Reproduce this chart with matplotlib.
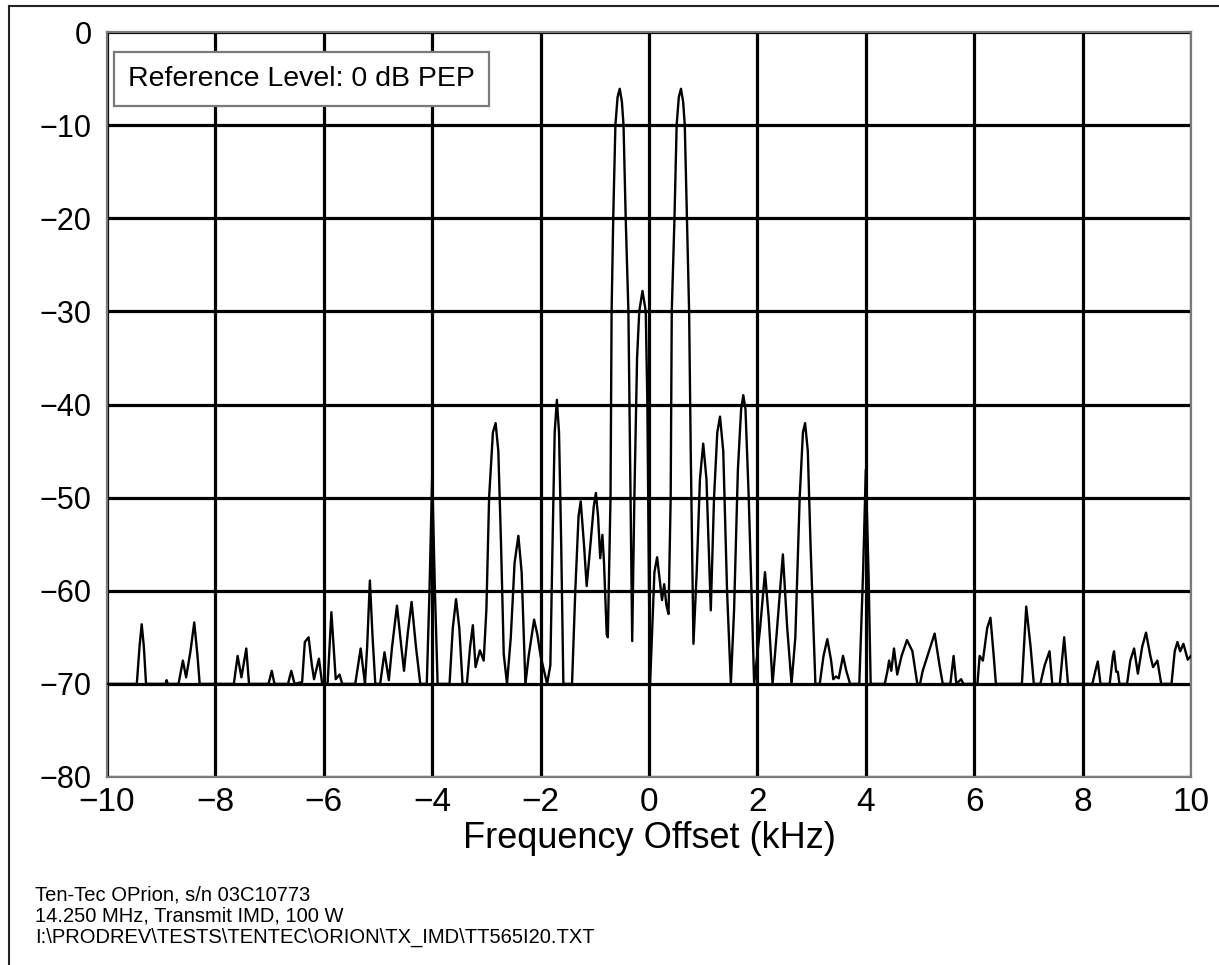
import matplotlib
matplotlib.use("Agg")
import matplotlib.pyplot as plt
from matplotlib.lines import Line2D

plt.rcParams['font.family'] = ['Liberation Sans', 'DejaVu Sans']

# Spectrum trace (kHz offset, dB relative to PEP)
freq_khz = [
    -10.0, -9.45, -9.40, -9.36, -9.32, -9.28,
    -8.92, -8.90, -8.88,
    -8.68, -8.60, -8.54, -8.46, -8.39, -8.33, -8.29,
    -7.66, -7.59, -7.52, -7.43, -7.38,
    -7.02, -6.96, -6.91,
    -6.66, -6.60, -6.54,
    -6.40, -6.35, -6.28, -6.22, -6.18, -6.09, -6.03,
    -5.93, -5.86, -5.78, -5.71, -5.66,
    -5.42, -5.32, -5.24, -5.20, -5.15, -5.10, -5.05,
    -4.96, -4.88, -4.80, -4.74, -4.65, -4.57, -4.52, -4.45, -4.38, -4.30, -4.22,
    -4.10, -4.05, -4.00, -3.95, -3.90,
    -3.68, -3.62, -3.56, -3.50, -3.44,
    -3.36, -3.30, -3.25, -3.20, -3.12, -3.05, -3.00, -2.95, -2.88, -2.83, -2.78, -2.73, -2.68, -2.62,
    -2.55, -2.48, -2.41, -2.35, -2.28,
    -2.22, -2.12, -2.06, -2.00, -1.88,
    -1.82, -1.78, -1.74, -1.70, -1.66, -1.62, -1.58,
    -1.42, -1.36, -1.30, -1.26, -1.20, -1.15, -1.08, -1.02, -0.98, -0.94, -0.90, -0.86, -0.83, -0.78,
    -0.76, -0.71, -0.69, -0.66, -0.62, -0.58, -0.54, -0.50, -0.47, -0.43, -0.38, -0.35, -0.31,
    -0.27, -0.22, -0.18, -0.12, -0.06, -0.03, 0.00, 0.02,
    0.06, 0.10, 0.15, 0.20, 0.24, 0.28, 0.32, 0.36, 0.40, 0.42, 0.47, 0.51, 0.55, 0.59, 0.63, 0.66, 0.70, 0.74, 0.77, 0.82,
    0.88, 0.94, 1.00, 1.06, 1.14, 1.20, 1.26, 1.31, 1.37, 1.44, 1.51,
    1.57, 1.64, 1.70, 1.74, 1.78, 1.84, 1.94,
    2.05, 2.14, 2.21, 2.28,
    2.35, 2.47, 2.55, 2.63,
    2.70, 2.78, 2.84, 2.88, 2.93, 2.98, 3.07,
    3.15, 3.22, 3.29, 3.36, 3.40, 3.45, 3.50, 3.58, 3.64, 3.71,
    3.88, 3.95, 4.00, 4.05, 4.09,
    4.35, 4.40, 4.43, 4.47, 4.52, 4.58, 4.66, 4.76, 4.86, 4.95, 5.00,
    5.05, 5.17, 5.27, 5.36, 5.42, 5.56, 5.62, 5.67, 5.76, 5.80,
    6.06, 6.10, 6.16, 6.24, 6.30, 6.36, 6.40,
    6.88, 6.96, 7.04, 7.10,
    7.22, 7.30, 7.39, 7.44,
    7.58, 7.66, 7.73,
    8.18, 8.24, 8.28, 8.33,
    8.50, 8.56, 8.58, 8.62, 8.65, 8.68,
    8.82, 8.88, 8.95, 9.02, 9.10, 9.17, 9.25, 9.30, 9.38, 9.45,
    9.64, 9.70, 9.75, 9.80, 9.86, 9.94, 10.0,
]
level_db = [
    -70, -70, -66, -63.6, -66, -70,
    -70, -69.6, -70,
    -70, -67.5, -69.3, -66.5, -63.4, -67, -70,
    -70, -67.0, -69.3, -66.2, -70,
    -70, -68.6, -70,
    -70, -68.6, -70,
    -69.8, -65.5, -65.0, -68, -69.5, -67.3, -70,
    -70, -62.3, -69.5, -69, -70,
    -70, -66.2, -70, -66, -58.9, -65, -70,
    -70, -66.6, -69.6, -66, -61.6, -66, -68.6, -64.5, -61.2, -66, -70,
    -70, -60, -47.5, -60, -70,
    -70, -64, -60.9, -64, -70,
    -70, -66, -63.7, -68.2, -66.4, -67.5, -62, -50, -43, -42.0, -45, -55, -66.8, -70,
    -65, -57, -54.1, -58, -70,
    -67, -63.1, -64.7, -67, -70,
    -68, -55, -43, -39.5, -43, -55, -70,
    -70, -60, -52, -50.4, -55, -59.5, -55, -51, -49.5, -52, -56.5, -54, -57, -64.7,
    -65, -50, -30, -20, -10, -7, -6.1, -7.5, -10, -20, -30, -45, -65.4,
    -50, -35, -30, -27.8, -30, -40, -60, -70,
    -64, -58, -56.4, -59, -61, -59.3, -61.5, -62.5, -50, -30, -20, -10, -7, -6.1, -7.5, -10, -20, -30, -45, -65.7,
    -58, -48, -44.2, -48, -62.1, -50, -43, -41.3, -45, -60, -70,
    -62, -47, -40.5, -39.0, -40.5, -50, -70,
    -64, -58.0, -63, -70,
    -65, -56.1, -64, -70,
    -65, -50, -43, -42.0, -45, -55, -70,
    -70, -67, -65.2, -67.5, -69.5, -69.2, -69.4, -67.0, -68.6, -70,
    -70, -58, -47, -58, -70,
    -70, -68.6, -67.5, -68.6, -66.2, -69, -67, -65.3, -66.5, -70, -70,
    -68.6, -66.4, -64.6, -68, -70, -70, -67, -70, -69.5, -70,
    -70, -67, -67.5, -64, -62.9, -67, -70,
    -70, -61.7, -66, -70,
    -70, -68, -66.5, -70,
    -70, -65.0, -70,
    -70, -68.5, -67.6, -70,
    -70, -67, -66.5, -68.7, -68.7, -70,
    -70, -67.5, -66.2, -68.9, -66, -64.5, -67, -68.2, -67.5, -70,
    -70, -66.5, -65.5, -66.5, -65.7, -67.4, -67,
]

x_ticks = [-10, -8, -6, -4, -2, 0, 2, 4, 6, 8, 10]
y_ticks = [0, -10, -20, -30, -40, -50, -60, -70, -80]
x_label = "Frequency Offset (kHz)"
ref_text = "Reference Level: 0 dB PEP"
footer_lines = [
    "Ten-Tec OPrion, s/n 03C10773",
    "14.250 MHz, Transmit IMD, 100 W",
    "I:\\PRODREV\\TESTS\\TENTEC\\ORION\\TX_IMD\\TT565I20.TXT",
]

W, H = 1219, 965
fig = plt.figure(figsize=(W / 100, H / 100), dpi=100)
fig.patch.set_facecolor("white")

ax_l, ax_r, ax_t, ax_b = 107, 1191, 32, 777
ax = fig.add_axes([ax_l / W, 1 - ax_b / H, (ax_r - ax_l) / W, (ax_b - ax_t) / H])

ax.set_xlim(-10, 10)
ax.set_ylim(-80, 0)
ax.set_xticks(x_ticks)
ax.set_yticks(y_ticks)
ax.grid(True, color="black", linewidth=2.3)
ax.set_axisbelow(True)
for s in ax.spines.values():
    s.set_color("#7a7a7a")
    s.set_linewidth(1.6)
ax.tick_params(length=0)
ax.tick_params(axis="y", labelsize=22, pad=11)
ax.tick_params(axis="x", labelsize=24, pad=7)

ax.plot(freq_khz, level_db, color="black", linewidth=1.7, solid_joinstyle="round", zorder=3)

ax.set_xlabel(x_label, fontsize=26, labelpad=2)

ax.text((128 - ax_l) / (ax_r - ax_l), (ax_b - 79) / (ax_b - ax_t), ref_text,
        transform=ax.transAxes, fontsize=20.5, va="center", ha="left", zorder=5,
        bbox=dict(boxstyle="square,pad=0.5", facecolor="white", edgecolor="#7a7a7a", linewidth=1.6))

for i, line in enumerate(footer_lines):
    fig.text(35 / W, 1 - (895 + 21 * i) / H, line, fontsize=14.5, va="center", ha="left")

# outer frame (left and top edges)
fig.add_artist(Line2D([9 / W, 9 / W], [0, 1 - 6 / H], transform=fig.transFigure, color="#222222", linewidth=1.5))
fig.add_artist(Line2D([9 / W, 1], [1 - 6 / H, 1 - 6 / H], transform=fig.transFigure, color="#222222", linewidth=1.5))

fig.savefig("out.png", dpi=100)
